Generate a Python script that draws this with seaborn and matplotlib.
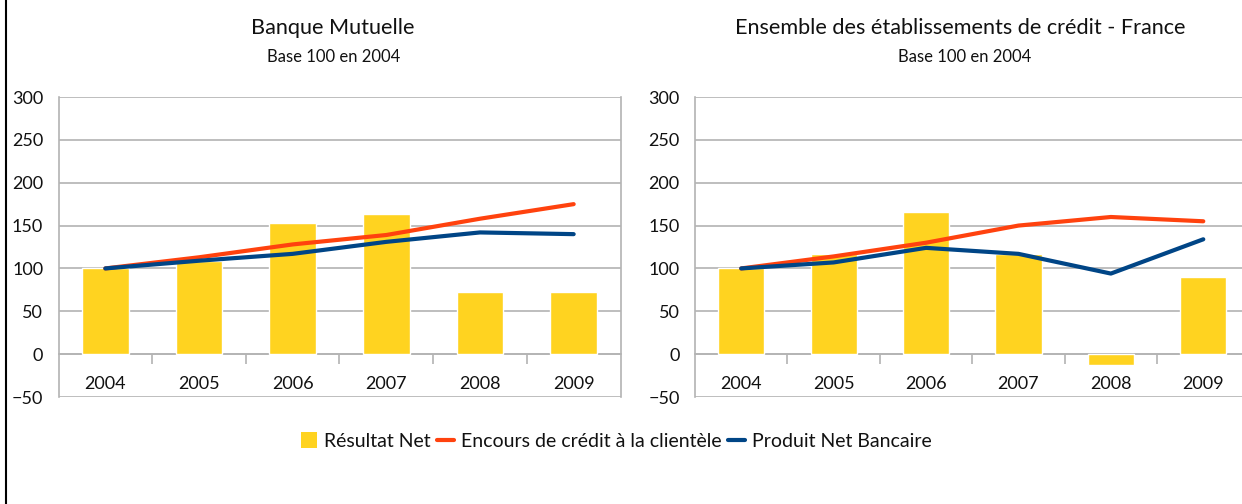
import numpy as np
import pandas as pd
import matplotlib
matplotlib.use("Agg")
import matplotlib.pyplot as plt
from matplotlib.lines import Line2D
from matplotlib.patches import Patch
import seaborn as sns

# ---- data (base 100 en 2004) ----
years = ["2004", "2005", "2006", "2007", "2008", "2009"]

bm_resultat = [100, 109, 153, 163, 72, 72]
bm_encours = [100, 113, 128, 139, 158, 175]
bm_pnb = [100, 109, 117, 131, 142, 140]

ec_resultat = [100, 117, 166, 117, -13, 90]
ec_encours = [100, 114, 130, 150, 160, 155]
ec_pnb = [100, 107, 124, 117, 94, 134]

titles = ["Banque Mutuelle", "Ensemble des établissements de crédit - France"]
subtitle = "Base 100 en 2004"
series_names = ["Résultat Net", "Encours de crédit à la clientèle", "Produit Net Bancaire"]

YELLOW = "#FFD320"
ORANGE = "#FF420E"
BLUE = "#004586"
GRID = "#B3B3B3"

sns.set_theme(style="white")
plt.rcParams["font.family"] = ["Lato", "DejaVu Sans"]

W, H = 1242, 504
fig = plt.figure(figsize=(W / 100, H / 100), dpi=100)


def px_axes(x0, x1, ytop, ybot):
    return fig.add_axes([x0 / W, 1 - ybot / H, (x1 - x0) / W, (ybot - ytop) / H])


def draw_panel(ax, resultat, encours, pnb, show_right_spine=True):
    df = pd.DataFrame({"annee": years, "valeur": resultat})
    sns.barplot(data=df, x="annee", y="valeur", color=YELLOW, width=0.5,
                saturation=1, ax=ax, zorder=2)
    xs = np.arange(len(years))
    sns.lineplot(x=xs, y=encours, color=ORANGE, linewidth=3.0, ax=ax, zorder=3)
    sns.lineplot(x=xs, y=pnb, color=BLUE, linewidth=3.0, ax=ax, zorder=4)

    ax.set_xlim(-0.5, len(years) - 0.5)
    ax.set_ylim(-50, 300)
    ax.set_yticks(np.arange(-50, 301, 50))
    ax.set_xlabel("")
    ax.set_ylabel("")

    ax.yaxis.grid(True, color=GRID, linewidth=1.2, zorder=0)
    ax.xaxis.grid(False)
    ax.set_axisbelow(True)

    for side in ["left", "right", "bottom"]:
        ax.spines[side].set_color(GRID)
        ax.spines[side].set_linewidth(1.2)
    ax.spines["top"].set_visible(False)
    ax.spines["right"].set_visible(show_right_spine)
    ax.spines["bottom"].set_position(("data", 0))
    ax.spines["bottom"].set_zorder(1)

    ax.tick_params(axis="y", which="major", direction="out", length=7,
                   width=1.2, color=GRID, pad=4, labelsize=13, labelcolor="#111111")
    ax.set_xticks(xs)
    ax.set_xticks(xs[:-1] + 0.5, minor=True)
    ax.tick_params(axis="x", which="major", length=0, pad=16,
                   labelsize=13, labelcolor="#111111")
    ax.tick_params(axis="x", which="minor", direction="out", length=7,
                   width=1.2, color=GRID, bottom=True)


ax1 = px_axes(58.5, 620.5, 97, 397)
draw_panel(ax1, bm_resultat, bm_encours, bm_pnb)

ax2 = px_axes(695, 1249.5, 97, 397)
draw_panel(ax2, ec_resultat, ec_encours, ec_pnb, show_right_spine=False)

# titles
for cx, title in zip([333, 960], titles):
    fig.text(cx / W, 1 - 28 / H, title, ha="center", va="center",
             fontsize=15.6, color="#111111")
for cx in [334, 965]:
    fig.text(cx / W, 1 - 57 / H, subtitle, ha="center", va="center",
             fontsize=12, color="#111111")

# legend
handles = [
    Patch(facecolor=YELLOW, edgecolor="none"),
    Line2D([0], [0], color=ORANGE, linewidth=3.0),
    Line2D([0], [0], color=BLUE, linewidth=3.0),
]
fig.legend(handles, series_names, loc="center", bbox_to_anchor=(616 / W, 1 - 441 / H),
           ncol=3, frameon=False, fontsize=14, handlelength=0.85, handleheight=0.85,
           handletextpad=0.35, columnspacing=0.35, labelcolor="#111111")

# outer border on the left
fig.add_artist(Line2D([6 / W, 6 / W], [0, 1], color="black", linewidth=1.5,
                      transform=fig.transFigure))

fig.savefig("out.png", dpi=100, facecolor="white")
